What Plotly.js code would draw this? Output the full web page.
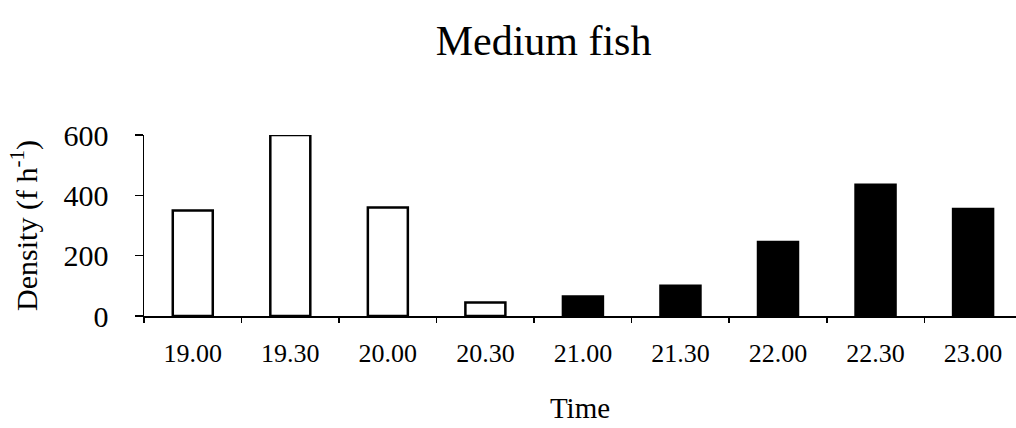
<!DOCTYPE html>
<html>
<head>
<meta charset="utf-8">
<script src="https://cdn.plot.ly/plotly-3.0.1.min.js"></script>
<style>
  html, body { margin: 0; padding: 0; background: #fff; }
  #chart { width: 1016px; height: 428px; }
</style>
</head>
<body>
<div id="chart"></div>
<script>
// Sampling times (evening) and medium fish density
const times = ['19.00', '19.30', '20.00', '20.30', '21.00', '21.30', '22.00', '22.30', '23.00'];
const density = [350, 600, 360, 45, 65, 100, 245, 435, 355];
// Samples taken before dark are drawn open, after dark filled
const daylight = [true, true, true, true, false, false, false, false, false];

const serif = 'Liberation Serif, Times New Roman, serif';

const trace = {
  type: 'bar',
  x: times,
  y: density,
  width: 0.41,
  marker: {
    color: daylight.map(d => d ? '#ffffff' : '#000000'),
    line: { color: '#000000', width: 2.5 }
  },
  hoverinfo: 'x+y'
};

const layout = {
  width: 1016,
  height: 428,
  margin: { l: 144, r: 0, t: 135, b: 112 },
  paper_bgcolor: '#ffffff',
  plot_bgcolor: '#ffffff',
  showlegend: false,
  bargap: 0.59,
  font: { family: serif, color: '#000000' },
  title: {
    text: 'Medium fish',
    font: { family: serif, size: 42, color: '#000000' },
    x: 0.535,
    xref: 'container',
    xanchor: 'center',
    y: 0.905,
    yref: 'container',
    yanchor: 'middle'
  },
  xaxis: {
    type: 'category',
    range: [-0.5, 8.44],
    showline: true,
    linecolor: '#000000',
    linewidth: 1.5,
    showgrid: false,
    zeroline: false,
    ticks: 'outside',
    tickson: 'boundaries',
    ticklen: 5,
    tickwidth: 1.5,
    tickcolor: '#000000',
    ticklabelstandoff: 13,
    tickfont: { family: serif, size: 26, color: '#000000' },
    title: {
      text: 'Time',
      font: { family: serif, size: 29, color: '#000000' },
      standoff: 31
    }
  },
  yaxis: {
    range: [0, 600],
    tickvals: [0, 200, 400, 600],
    showline: true,
    linecolor: '#000000',
    linewidth: 1.5,
    showgrid: false,
    zeroline: false,
    ticks: 'outside',
    ticklen: 8,
    tickwidth: 1.5,
    tickcolor: '#000000',
    ticklabelstandoff: 20,
    tickfont: { family: serif, size: 30, color: '#000000' },
    title: {
      text: 'Density (f h<sup>-1</sup>)',
      font: { family: serif, size: 30, color: '#000000' },
      standoff: 17
    }
  }
};

Plotly.newPlot('chart', [trace], layout, { displayModeBar: false, staticPlot: true });
</script>
</body>
</html>
